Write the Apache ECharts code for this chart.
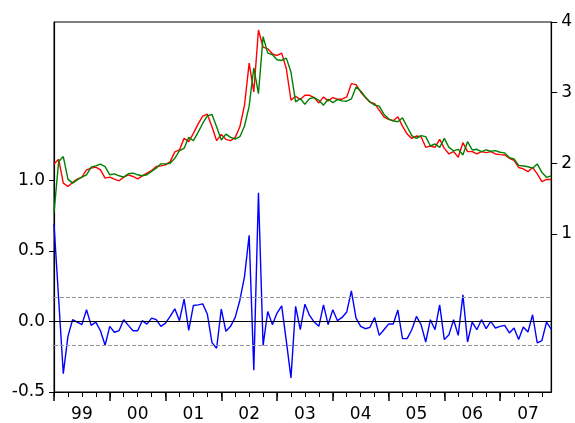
<!DOCTYPE html>
<html>
<head>
<meta charset="utf-8">
<script src="https://cdn.jsdelivr.net/npm/echarts@6/dist/echarts.min.js"></script>
<style>html,body{margin:0;padding:0;background:#fff}#c{width:575px;height:423px}</style>
</head>
<body>
<div id="c"></div>
<script>
// Monthly observations 1999M01 .. 2007M12
const yearLabels = ['99','00','01','02','03','04','05','06','07'];

const actual = [
1.99,2.056,1.718,1.671,1.728,1.775,1.803,1.906,1.930,1.944,1.906,1.789,
1.803,1.775,1.751,1.803,1.836,1.812,1.779,1.822,1.859,1.897,1.953,1.962,
1.977,2.023,2.160,2.188,2.352,2.305,2.423,2.554,2.667,2.695,2.516,2.319,
2.408,2.338,2.319,2.366,2.516,2.822,3.418,3.009,3.887,3.643,3.620,3.549,
3.526,3.559,3.338,2.892,2.948,2.901,2.962,2.962,2.930,2.854,2.939,2.883,
2.930,2.906,2.906,2.939,3.127,3.113,3.009,2.930,2.864,2.845,2.751,2.657,
2.620,2.601,2.657,2.526,2.413,2.352,2.385,2.376,2.225,2.244,2.225,2.338,
2.211,2.131,2.164,2.085,2.291,2.164,2.164,2.131,2.164,2.150,2.164,2.131,
2.122,2.117,2.07,2.04,1.94,1.92,1.88,1.94,1.85,1.74,1.77,1.77
];

const fitted = [
1.296,2.023,2.094,1.775,1.718,1.765,1.803,1.836,1.944,1.962,1.986,1.953,
1.836,1.850,1.822,1.803,1.850,1.859,1.836,1.822,1.836,1.883,1.930,1.991,
1.991,2.0,2.070,2.178,2.211,2.366,2.319,2.437,2.563,2.671,2.690,2.516,
2.329,2.413,2.366,2.343,2.376,2.526,2.808,3.352,2.986,3.793,3.559,3.540,
3.465,3.455,3.488,3.291,2.869,2.915,2.836,2.915,2.930,2.892,2.822,2.906,
2.859,2.901,2.883,2.878,2.911,3.080,3.023,2.939,2.869,2.822,2.808,2.695,
2.629,2.601,2.587,2.643,2.516,2.390,2.352,2.390,2.376,2.244,2.272,2.225,
2.352,2.225,2.174,2.197,2.117,2.305,2.188,2.197,2.164,2.188,2.169,2.178,
2.155,2.146,2.08,2.06,1.97,1.96,1.95,1.93,1.99,1.87,1.80,1.82
];

const residual = [
0.69,0.16,-0.37,-0.106,0.012,-0.005,-0.023,0.082,-0.028,-0.005,-0.066,-0.169,
-0.035,-0.077,-0.066,0.012,-0.028,-0.066,-0.066,0.005,-0.019,0.023,0.012,-0.035,
-0.012,0.035,0.089,0.005,0.157,-0.063,0.113,0.117,0.124,0.052,-0.15,-0.19,
0.087,-0.07,-0.035,0.028,0.15,0.317,0.61,-0.345,0.91,-0.17,0.07,-0.023,
0.059,0.11,-0.14,-0.40,0.106,-0.059,0.122,0.042,-0.005,-0.035,0.117,-0.023,
0.082,0.005,0.028,0.066,0.216,0.023,-0.035,-0.052,-0.042,0.028,-0.099,-0.059,
-0.019,-0.019,0.08,-0.122,-0.122,-0.059,0.035,-0.023,-0.146,0.012,-0.059,0.117,
-0.129,-0.094,0.012,-0.099,0.188,-0.146,-0.005,-0.059,0.012,-0.052,0,-0.047,
-0.035,-0.028,-0.082,-0.047,-0.129,-0.04,-0.075,0.047,-0.153,-0.136,-0.005,-0.054
];

const leftTicks = [-0.5, 0, 0.5, 1.0];
const rightTicks = [1, 2, 3, 4];
const seBand = 0.167;

const n = actual.length;
const lastIdx = n - 1;
const minorTickVals = [];
for (let i = 0; i <= lastIdx; i += 3) minorTickVals.push(i);
const majorTickVals = yearLabels.map((_, k) => 12 * k);
const labelVals = yearLabels.map((_, k) => 12 * k + 6);

const pairs = arr => arr.map((v, i) => [i, v]);

const font = { fontFamily: 'DejaVu Sans', fontSize: 17, color: '#000' };

const chart = echarts.init(document.getElementById('c'), null, { renderer: 'canvas' });
chart.setOption({
  animation: false,
  backgroundColor: '#fff',
  grid: { left: 54, right: 23, top: 22, bottom: 29, show: true, borderColor: '#000', borderWidth: 1, backgroundColor: 'transparent' },
  xAxis: [
    {
      type: 'value', min: 0, max: lastIdx, position: 'bottom',
      axisLine: { show: true, onZero: false, lineStyle: { color: '#000', width: 1.2 } },
      axisTick: { show: true, length: 5, customValues: minorTickVals, lineStyle: { color: '#000' } },
      axisLabel: { show: false },
      splitLine: { show: false }
    },
    {
      type: 'value', min: 0, max: lastIdx, position: 'bottom',
      axisLine: { show: false, onZero: false },
      axisTick: { show: true, length: 9, customValues: majorTickVals, lineStyle: { color: '#000', width: 1.5 } },
      axisLabel: Object.assign({ show: true, margin: 14, customValues: labelVals,
        formatter: v => yearLabels[Math.round((v - 6) / 12)] }, font),
      splitLine: { show: false }
    }
  ],
  yAxis: [
    {
      type: 'value', min: -0.5, max: 2.12, position: 'left',
      axisLine: { show: true, onZero: false, lineStyle: { color: '#000', width: 1.2 } },
      axisTick: { show: true, length: 5, customValues: leftTicks, lineStyle: { color: '#000' } },
      axisLabel: Object.assign({ margin: 9, customValues: leftTicks, formatter: v => v.toFixed(1) }, font),
      splitLine: { show: false }
    },
    {
      type: 'value', min: -1.24, max: 4, position: 'right',
      axisLine: { show: true, onZero: false, lineStyle: { color: '#000', width: 1.2 } },
      axisTick: { show: true, length: 6, customValues: rightTicks, lineStyle: { color: '#000' } },
      axisLabel: Object.assign({ margin: 10, customValues: rightTicks, formatter: v => String(v) }, font),
      splitLine: { show: false }
    }
  ],
  series: [
    {
      name: 'Residual', type: 'line', xAxisIndex: 0, yAxisIndex: 0,
      data: pairs(residual), showSymbol: false, symbol: 'none',
      lineStyle: { color: '#0000ff', width: 1.4 },
      markLine: {
        silent: true, symbol: 'none', label: { show: false },
        data: [
          { yAxis: 0, lineStyle: { color: '#000', type: 'solid', width: 1 } },
          { yAxis: seBand, lineStyle: { color: '#9a9a9a', type: [4, 2], width: 1 } },
          { yAxis: -seBand, lineStyle: { color: '#9a9a9a', type: [4, 2], width: 1 } }
        ]
      },
      z: 2
    },
    {
      name: 'Actual', type: 'line', xAxisIndex: 0, yAxisIndex: 1,
      data: pairs(actual), showSymbol: false, symbol: 'none',
      lineStyle: { color: '#ff0000', width: 1.4 }, z: 3
    },
    {
      name: 'Fitted', type: 'line', xAxisIndex: 0, yAxisIndex: 1,
      data: pairs(fitted), showSymbol: false, symbol: 'none',
      lineStyle: { color: '#008000', width: 1.4 }, z: 4
    }
  ]
});
</script>
</body>
</html>
